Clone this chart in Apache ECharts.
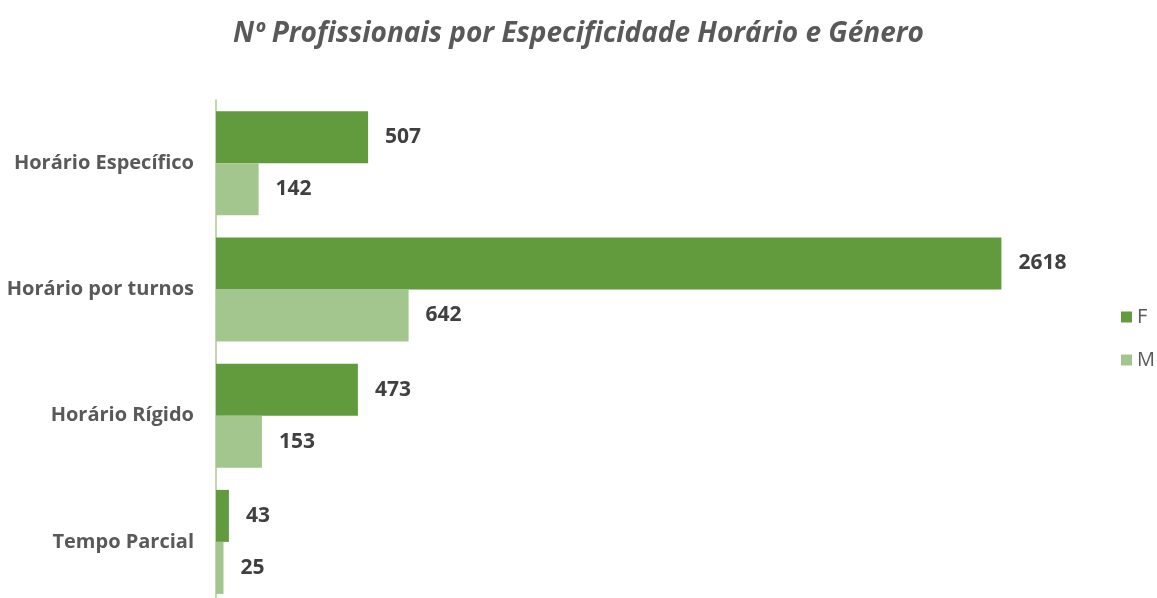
<!DOCTYPE html>
<html>
<head>
<meta charset="utf-8">
<script src="https://cdn.jsdelivr.net/npm/echarts@6/dist/echarts.min.js"></script>
<style>
  html, body { margin: 0; padding: 0; background: #fff; overflow: hidden; }
  #chart { width: 1157px; height: 620px; }
</style>
</head>
<body>
<div id="chart"></div>
<script>
var categories = ["Horário Específico", "Horário por turnos", "Horário Rígido", "Tempo Parcial"];
var valuesF = [507, 2618, 473, 43];
var valuesM = [142, 642, 153, 25];

var chart = echarts.init(document.getElementById("chart"));
var labelStyle = {
  show: true,
  position: "right",
  distance: 17,
  fontFamily: "Open Sans",
  fontWeight: "bold",
  fontSize: 21,
  color: "#404040"
};
var option = {
  animation: false,
  title: {
    text: "Nº Profissionais por Especificidade Horário e Género",
    left: "center",
    top: 15,
    textStyle: {
      fontFamily: "Open Sans",
      fontStyle: "italic",
      fontWeight: "bold",
      fontSize: 28,
      color: "#595959"
    }
  },
  legend: {
    orient: "vertical",
    left: 1116,
    top: 302,
    itemWidth: 11,
    itemHeight: 11,
    itemGap: 23,
    itemTextGap: 6,
    icon: "rect",
    textStyle: { fontFamily: "Open Sans", fontSize: 20, color: "#595959" },
    data: ["F", "M"]
  },
  grid: {
    left: 216,
    top: 100,
    width: 900,
    height: 505,
    containLabel: false
  },
  xAxis: {
    type: "value",
    min: 0,
    max: 3000,
    show: false,
    splitLine: { show: false }
  },
  yAxis: {
    type: "category",
    inverse: true,
    data: categories,
    axisLine: { lineStyle: { color: "#A9D18E", width: 1.5 } },
    axisTick: { show: false },
    axisLabel: {
      margin: 22,
      fontFamily: "Open Sans",
      fontWeight: "bold",
      fontSize: 20,
      color: "#595959"
    }
  },
  series: [
    {
      name: "F",
      type: "bar",
      data: valuesF,
      barWidth: 52,
      barGap: "0%",
      itemStyle: { color: "#629A3E" },
      label: labelStyle
    },
    {
      name: "M",
      type: "bar",
      data: valuesM,
      barWidth: 52,
      barGap: "0%",
      itemStyle: { color: "#A3C68F" },
      label: labelStyle
    }
  ]
};
chart.setOption(option);
</script>
</body>
</html>
